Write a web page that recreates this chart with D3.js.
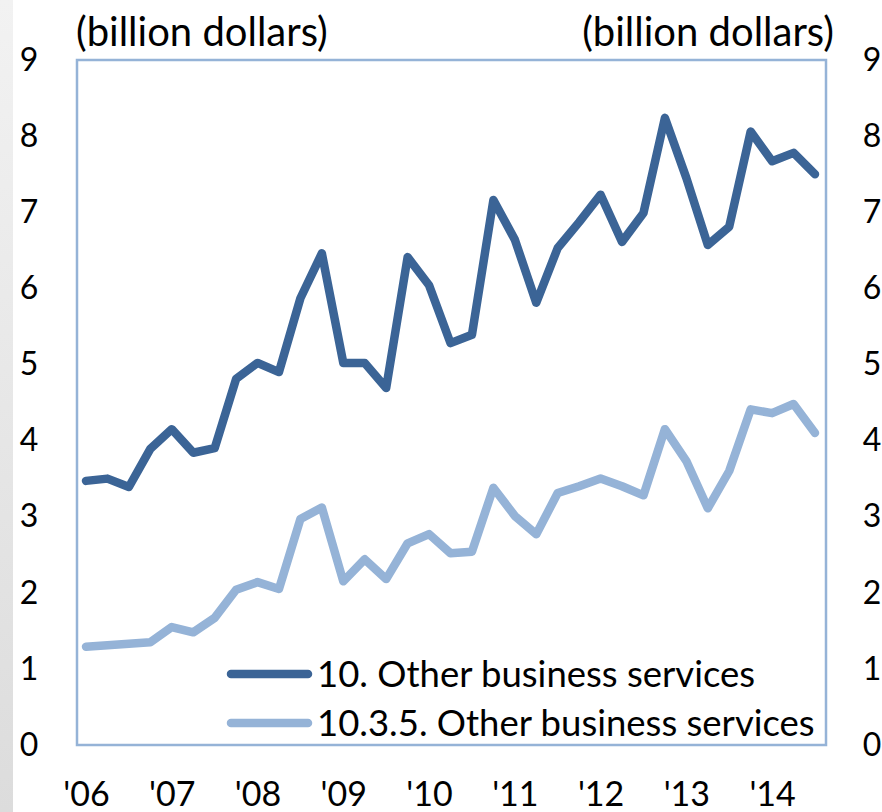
<!DOCTYPE html>
<html>
<head>
<meta charset="utf-8">
<script src="https://cdn.jsdelivr.net/npm/d3@7"></script>
<style>
  body { margin: 0; background: #fff; }
  svg { display: block; font-family: Lato, "Open Sans", sans-serif; }
</style>
</head>
<body>
<svg id="svg" width="882" height="812"></svg>
<script>
const svg = d3.select("#svg");
const width = 882, height = 812;

// quarterly, 2006Q1 .. 2014Q3
const yearLabels = ["'06", "'07", "'08", "'09", "'10", "'11", "'12", "'13", "'14"];
const otherBusiness = [
  3.47, 3.50, 3.39, 3.89, 4.15, 3.84, 3.90, 4.81,
  5.02, 4.90, 5.87, 6.46, 5.02, 5.02, 4.69, 6.41,
  6.04, 5.28, 5.39, 7.16, 6.64, 5.81, 6.53, 6.87,
  7.23, 6.61, 6.99, 8.24, 7.45, 6.57, 6.81, 8.06,
  7.67, 7.78, 7.50
];
const otherBusiness1035 = [
  1.29, 1.31, 1.33, 1.35, 1.55, 1.48, 1.67, 2.04,
  2.14, 2.05, 2.97, 3.12, 2.15, 2.44, 2.18, 2.65,
  2.77, 2.52, 2.54, 3.38, 3.01, 2.77, 3.31, 3.40,
  3.50, 3.40, 3.28, 4.15, 3.73, 3.11, 3.60, 4.41,
  4.36, 4.48, 4.10
];
const seriesNames = ["10. Other business services", "10.3.5. Other business services"];
const yTicks = d3.range(0, 10);

const darkBlue = "#3b6496";
const lightBlue = "#95b3d7";

// left edge strip (slide background)
const grad = svg.append("defs").append("linearGradient")
  .attr("id", "edge").attr("x1", 0).attr("y1", 0).attr("x2", 0).attr("y2", 1);
grad.append("stop").attr("offset", "0%").attr("stop-color", "#f2f2f2");
grad.append("stop").attr("offset", "100%").attr("stop-color", "#dcdcdc");
svg.append("rect").attr("x", 0).attr("y", 0).attr("width", 13).attr("height", height)
  .attr("fill", "url(#edge)");

const box = { left: 77, right: 826, top: 60, bottom: 745 };

const x = d3.scaleLinear().domain([0, otherBusiness.length - 1]).range([86, 815]);
const y = d3.scaleLinear().domain([0, 9]).range([box.bottom, box.top]);

// plot frame
svg.append("rect")
  .attr("x", box.left).attr("y", box.top)
  .attr("width", box.right - box.left).attr("height", box.bottom - box.top)
  .attr("fill", "none").attr("stroke", lightBlue).attr("stroke-width", 2.5);

// y axes, left and right
const leftAxis = svg.append("g")
  .attr("transform", `translate(43,0)`)
  .call(d3.axisLeft(y).tickValues(yTicks).tickSize(0).tickPadding(0));
const rightAxis = svg.append("g")
  .attr("transform", `translate(862,0)`)
  .call(d3.axisRight(y).tickValues(yTicks).tickSize(0).tickPadding(0));
[leftAxis, rightAxis].forEach(a => {
  a.select(".domain").remove();
  a.selectAll("text")
    .attr("font-family", "Lato, 'Open Sans', sans-serif")
    .attr("font-size", 32)
    .attr("fill", "#000");
});
leftAxis.selectAll("text").attr("text-anchor", "middle").attr("x", -14);
rightAxis.selectAll("text").attr("text-anchor", "middle").attr("x", 10);

// x axis: a label at each Q1
const xAxis = svg.append("g")
  .attr("transform", `translate(0,${box.bottom})`)
  .call(d3.axisBottom(x)
    .tickValues(yearLabels.map((d, i) => i * 4))
    .tickFormat((d, i) => yearLabels[i])
    .tickSize(0).tickPadding(0));
xAxis.select(".domain").remove();
xAxis.selectAll("text")
  .attr("font-family", "Lato, 'Open Sans', sans-serif")
  .attr("font-size", 34)
  .attr("fill", "#000")
  .attr("dy", null)
  .attr("y", 61);

// unit labels
svg.append("text").attr("x", 76).attr("y", 46)
  .attr("font-size", 40).text("(billion dollars)");
svg.append("text").attr("x", 834).attr("y", 46).attr("text-anchor", "end")
  .attr("font-size", 40).text("(billion dollars)");

const line = d3.line().x((d, i) => x(i)).y(d => y(d));

svg.append("path").datum(otherBusiness1035)
  .attr("d", line).attr("fill", "none")
  .attr("stroke", lightBlue).attr("stroke-width", 8.5)
  .attr("stroke-linejoin", "round").attr("stroke-linecap", "round");
svg.append("path").datum(otherBusiness)
  .attr("d", line).attr("fill", "none")
  .attr("stroke", darkBlue).attr("stroke-width", 8.5)
  .attr("stroke-linejoin", "round").attr("stroke-linecap", "round");

// legend
const legend = svg.append("g");
const legendRows = legend.selectAll("g")
  .data(seriesNames.map((name, i) => ({ name, color: i === 0 ? darkBlue : lightBlue })))
  .join("g")
  .attr("transform", (d, i) => `translate(0,${674 + i * 49})`);
legendRows.append("line")
  .attr("x1", 231).attr("x2", 308)
  .attr("stroke", d => d.color).attr("stroke-width", 8.5)
  .attr("stroke-linecap", "round");
legendRows.append("text")
  .attr("x", 317).attr("dy", "0.36em")
  .attr("font-size", 36.5)
  .text(d => d.name);
</script>
</body>
</html>
